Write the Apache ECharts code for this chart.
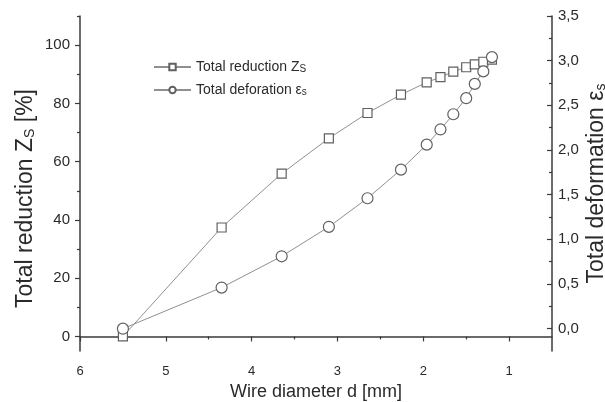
<!DOCTYPE html>
<html><head><meta charset="utf-8">
<script src="https://cdn.jsdelivr.net/npm/echarts@6/dist/echarts.min.js"></script>
<style>html,body{margin:0;padding:0;background:#fff}#c{width:605px;height:402px}</style>
</head><body><div id="c"></div>
<script>
const diameters = [5.5, 4.35, 3.65, 3.10, 2.65, 2.26, 1.96, 1.80, 1.65, 1.50, 1.40, 1.30, 1.20];
const totalReduction = [0, 37.4, 55.9, 68.0, 76.7, 83.0, 87.2, 89.0, 90.9, 92.4, 93.4, 94.3, 95.0];
const totalDeformation = [0, 0.46, 0.81, 1.14, 1.46, 1.78, 2.06, 2.23, 2.40, 2.58, 2.74, 2.88, 3.04];
const xTicks = [1, 2, 3, 4, 5, 6];
const xMinorTicks = [1.5, 2.5, 3.5, 4.5, 5.5];
const leftTicks = [0, 20, 40, 60, 80, 100];
const leftMinorTicks = [10, 30, 50, 70, 90, 110];
const rightTicks = [0, 0.5, 1, 1.5, 2, 2.5, 3, 3.5];
const rightMinorTicks = [0.25, 0.75, 1.25, 1.75, 2.25, 2.75, 3.25];

const FONT = 'Liberation Sans, Arial, sans-serif';
const TXT = '#2a2a2a';
const AX = '#3a3a3a';
const sub = {fontSize: 14, fontFamily: FONT, color: TXT, verticalAlign: 'bottom', padding: [14, 0, 0, 0], lineHeight: 14};
const subL = {fontSize: 10, fontFamily: FONT, color: TXT, verticalAlign: 'bottom', padding: [7, 0, 0, 0], lineHeight: 9};

const chart = echarts.init(document.getElementById('c'), null, {renderer: 'canvas'});
const zData = diameters.map((d, i) => [d, totalReduction[i]]);
const eData = diameters.map((d, i) => [d, totalDeformation[i]]);

const xCommon = {type: 'value', gridIndex: 0, inverse: true, min: 0.5, max: 6, position: 'bottom', splitLine: {show: false}};
const option = {
  animation: false,
  backgroundColor: '#fff',
  grid: {left: 80, right: 53, top: 16, bottom: 51, containLabel: false, outerBoundsMode: 'none'},
  legend: {
    orient: 'vertical', left: 153, top: 57, padding: 0, itemWidth: 37, itemHeight: 8, itemGap: 6,
    data: ['Total reduction Z', 'Total deforation ε'],
    formatter: n => n === 'Total reduction Z' ? 'Total reduction Z{s|S}' : 'Total deforation ε{s|s}',
    textStyle: {fontSize: 14, fontFamily: FONT, color: TXT, rich: {s: subL}}
  },
  xAxis: [
    Object.assign({}, xCommon, {
      name: 'Wire diameter d [mm]', nameLocation: 'middle', nameGap: 32, nameMoveOverlap: false,
      nameTextStyle: {fontSize: 18, fontFamily: FONT, color: TXT},
      axisLine: {show: true, lineStyle: {color: AX, width: 1.5}},
      axisTick: {show: true, length: 5, customValues: xTicks, lineStyle: {color: AX, width: 1.2}},
      axisLabel: {show: true, customValues: xTicks, margin: 14, fontSize: 13, fontFamily: FONT, color: TXT}
    }),
    Object.assign({}, xCommon, {
      axisLine: {show: false},
      axisTick: {show: true, length: 3, customValues: xMinorTicks, lineStyle: {color: AX, width: 1.2}},
      axisLabel: {show: false}
    })
  ],
  yAxis: [
    {
      type: 'value', position: 'left', min: -5, max: 110, splitLine: {show: false},
      name: 'Total reduction Z{s|S} [%]', nameLocation: 'middle', nameGap: 43, nameRotate: 90, nameMoveOverlap: false,
      nameTextStyle: {fontSize: 23, fontFamily: FONT, color: TXT, rich: {s: sub}, padding: [0, 30, 0, 0]},
      axisLine: {show: true, lineStyle: {color: AX, width: 1.5}},
      axisTick: {show: true, length: 5, customValues: leftTicks, lineStyle: {color: AX, width: 1.2}},
      axisLabel: {show: true, customValues: leftTicks, margin: 10, fontSize: 15, fontFamily: FONT, color: TXT}
    },
    {
      type: 'value', position: 'left', min: -5, max: 110, splitLine: {show: false},
      axisLine: {show: false},
      axisTick: {show: true, length: 3, customValues: leftMinorTicks, lineStyle: {color: AX, width: 1.2}},
      axisLabel: {show: false}
    },
    {
      type: 'value', position: 'right', min: -0.25, max: 3.5, splitLine: {show: false},
      name: 'Total deformation ε{s|s}', nameLocation: 'middle', nameGap: 33, nameRotate: 90, nameMoveOverlap: false,
      nameTextStyle: {fontSize: 23, fontFamily: FONT, color: TXT, rich: {s: sub}},
      axisLine: {show: true, lineStyle: {color: AX, width: 1.5}},
      axisTick: {show: true, inside: true, length: 5, customValues: rightTicks, lineStyle: {color: AX, width: 1.2}},
      axisLabel: {show: true, customValues: rightTicks, margin: 6, fontSize: 15, fontFamily: FONT, color: TXT,
        formatter: v => v.toFixed(1).replace('.', ',')}
    },
    {
      type: 'value', position: 'right', min: -0.25, max: 3.5, splitLine: {show: false},
      axisLine: {show: false},
      axisTick: {show: true, inside: true, length: 3, customValues: rightMinorTicks, lineStyle: {color: AX, width: 1.2}},
      axisLabel: {show: false}
    }
  ],
  series: [
    {
      name: 'Total reduction Z', type: 'line', xAxisIndex: 0, yAxisIndex: 0, data: zData,
      symbol: 'rect', symbolSize: 9,
      lineStyle: {color: '#909090', width: 1},
      itemStyle: {color: '#fff', borderColor: '#606060', borderWidth: 1.2}
    },
    {
      name: 'Total deforation ε', type: 'line', xAxisIndex: 0, yAxisIndex: 2, data: eData,
      symbol: 'circle', symbolSize: 11,
      lineStyle: {color: '#909090', width: 1},
      itemStyle: {color: '#fff', borderColor: '#606060', borderWidth: 1.2}
    }
  ]
};
chart.setOption(option);
</script></body></html>
